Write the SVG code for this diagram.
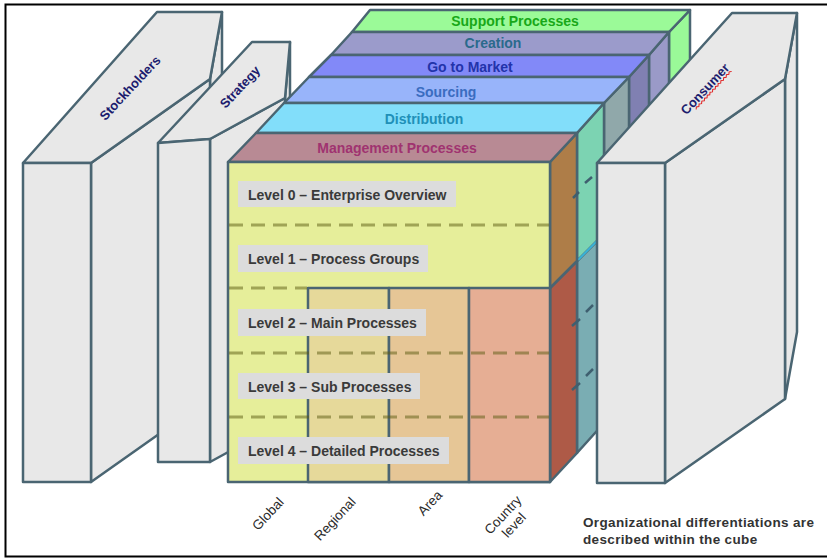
<svg xmlns="http://www.w3.org/2000/svg" width="827" height="559" viewBox="0 0 827 559">
<style>
.e{stroke:#4A6572;stroke-width:2.5;stroke-linejoin:round}
.blk{fill:#E8E8E8}
.lay{font-family:"Liberation Sans",Arial,sans-serif;font-weight:bold;font-size:14px;text-anchor:middle}
.bt{font-family:"Liberation Sans",Arial,sans-serif;font-weight:bold;font-size:13px;fill:#1C1C6E;text-anchor:middle}
.lv{font-family:"Liberation Sans",Arial,sans-serif;font-weight:bold;font-size:14px;fill:#3A3A3A}
.ax{font-family:"Liberation Sans",Arial,sans-serif;font-size:13.5px;fill:#2A2A2A;text-anchor:middle}
.note{font-family:"Liberation Sans",Arial,sans-serif;font-weight:bold;font-size:13.5px;fill:#333;letter-spacing:0.35px}
.lbox{fill:#DCDCDC}
.dash{stroke:#5A5A10;stroke-opacity:0.5;stroke-width:3;stroke-dasharray:14 8;fill:none}
.sd{stroke:#3F5F6F;stroke-width:2.5;fill:none}
</style>
<rect x="0" y="0" width="827" height="559" fill="#FFFFFF"/>
<rect x="5.5" y="4.5" width="840" height="552" fill="none" stroke="#000" stroke-width="2"/>

<g id="stockholders">
  <polygon class="e blk" points="210,79 222,12 222,332 210,398"/>
  <polygon class="e blk" points="91,163 210,79 210,398 91,482"/>
  <polygon class="e blk" points="23,163 157,12 222,12 210,79 91,163"/>
  <polygon class="e blk" points="23,163 91,163 91,482 23,482"/>
  <text class="bt" transform="translate(130,88) rotate(-47)" x="0" y="4.5">Stockholders</text>
</g>

<g id="strategy">
  <polygon class="e blk" points="285,98 290,42 290,380 285,421"/>
  <polygon class="e blk" points="210,139 285,98 285,421 210,462"/>
  <polygon class="e blk" points="158,143 252,42 290,42 285,98 210,139"/>
  <polygon class="e blk" points="158,143 210,139 210,462 158,462"/>
  <text class="bt" transform="translate(240,87) rotate(-47)" x="0" y="4.5">Strategy</text>
</g>

<g id="cube">
  <g id="support">
    <polygon class="e" fill="#9AF998" points="669,32 690,10 690,330 669,352"/>
    <polygon class="e" fill="#9BFA98" points="352,32 370,10 690,10 669,32"/>
    <text class="lay" fill="#18A818" x="515" y="26">Support Processes</text>
  </g>
  <g id="creation">
    <polygon class="e" fill="#9A9AC8" points="649,55 669,32 669,352 649,375"/>
    <polygon class="e" fill="#9B9BCB" points="331,55 352,32 669,32 649,55"/>
    <text class="lay" fill="#2A6A8C" x="493" y="48">Creation</text>
  </g>
  <g id="gotomarket">
    <polygon class="e" fill="#8080B2" points="629,77 649,55 649,375 629,397"/>
    <polygon class="e" fill="#8289F8" points="309,77 331,55 649,55 629,77"/>
    <text class="lay" fill="#2233AA" x="470" y="72">Go to Market</text>
  </g>
  <g id="sourcing">
    <polygon class="e" fill="#90A8AA" points="604,103 629,77 629,397 604,423"/>
    <polygon class="e" fill="#98B4FA" points="284,103 309,77 629,77 604,103"/>
    <text class="lay" fill="#3A6CC0" x="446" y="97">Sourcing</text>
  </g>
  <g id="distribution">
    <polygon class="e" fill="#7AADB3" points="577,261 604,234 604,423 577,453"/>
    <polygon class="e" fill="#7CD3B2" points="577,133 604,103 604,234 577,261"/>
    <line x1="578" y1="260" x2="603" y2="235" stroke="#3AB4D8" stroke-width="2"/>
    <polygon class="e" fill="#82DEFA" points="256,133 284,103 604,103 577,133"/>
    <text class="lay" fill="#2090B8" x="424" y="124">Distribution</text>
  </g>
  <g id="management">
    <polygon class="e" fill="#AE5A47" points="550,288 577,261 577,453 550,482"/>
    <polygon class="e" fill="#AE7D48" points="550,162 577,133 577,261 550,288"/>
    <polygon class="e" fill="#B88A94" points="228,162 256,133 577,133 550,162"/>
    <text class="lay" fill="#A03370" x="397" y="153">Management Processes</text>
  </g>
  <g id="front">
    <rect class="e" fill="#E6EE9A" x="228" y="162" width="322" height="320"/>
    <rect class="e" fill="#E6D99A" x="308" y="288" width="81" height="194"/>
    <rect class="e" fill="#E6C696" x="389" y="288" width="80" height="194"/>
    <rect class="e" fill="#E6AE94" x="469" y="288" width="81" height="194"/>
    <line class="dash" x1="229" y1="225" x2="549" y2="225"/>
    <line class="dash" x1="229" y1="288" x2="307" y2="288"/>
    <line class="dash" x1="229" y1="353" x2="549" y2="353"/>
    <line class="dash" x1="229" y1="417" x2="549" y2="417"/>
    <g class="sd">
      <line x1="573" y1="198" x2="579" y2="192"/>
      <line x1="585" y1="183" x2="592" y2="177"/>
      <line x1="572" y1="326" x2="580" y2="319"/>
      <line x1="586" y1="312" x2="593" y2="305"/>
      <line x1="572" y1="390" x2="580" y2="383"/>
      <line x1="586" y1="376" x2="593" y2="369"/>
    </g>
  </g>
  <g id="level0"><rect class="lbox" x="238" y="181" width="218" height="26"/><text class="lv" x="248" y="200">Level 0 – Enterprise Overview</text></g>
  <g id="level1"><rect class="lbox" x="238" y="245" width="190" height="27"/><text class="lv" x="248" y="264">Level 1 – Process Groups</text></g>
  <g id="level2"><rect class="lbox" x="238" y="309" width="188" height="27"/><text class="lv" x="248" y="328">Level 2 – Main Processes</text></g>
  <g id="level3"><rect class="lbox" x="238" y="373" width="182" height="26"/><text class="lv" x="248" y="392">Level 3 – Sub Processes</text></g>
  <g id="level4"><rect class="lbox" x="238" y="437" width="211" height="27"/><text class="lv" x="248" y="456">Level 4 – Detailed Processes</text></g>
</g>

<g id="consumer">
  <polygon class="e blk" points="785,79 797,13 797,332 785,399"/>
  <polygon class="e blk" points="665,163 785,79 785,399 665,483"/>
  <polygon class="e blk" points="597,163 732,13 797,13 785,79 665,163"/>
  <polygon class="e blk" points="597,163 665,163 665,483 597,483"/>
  <g transform="translate(705,89) rotate(-47)">
    <text class="bt" x="0" y="4.5">Consumer</text>
    <path d="M-21 7.5 l2 -1.6 l2 1.6 l2 -1.6 l2 1.6 l2 -1.6 l2 1.6 l2 -1.6 l2 1.6 l2 -1.6 l2 1.6 l2 -1.6 l2 1.6 l2 -1.6 l2 1.6 l2 -1.6 l2 1.6 l2 -1.6 l2 1.6 l2 -1.6 l2 1.6 l2 -1.6 l2 1.6 l2 -1.6 l2 1.6 l2 -1.6 l2 1.6" fill="none" stroke="#E02020" stroke-width="1"/>
  </g>
</g>

<g id="axis-labels">
  <text class="ax" transform="translate(268,514) rotate(-47)" x="0" y="4.5">Global</text>
  <text class="ax" transform="translate(335,519) rotate(-47)" x="0" y="4.5">Regional</text>
  <text class="ax" transform="translate(430,503) rotate(-47)" x="0" y="4.5">Area</text>
  <text class="ax" transform="translate(503,515) rotate(-47)"><tspan x="0" y="4.5">Country</tspan><tspan x="0" dy="15">level</tspan></text>
</g>

<g id="note">
  <text class="note" x="583" y="527">Organizational differentiations are</text>
  <text class="note" x="583" y="544">described within the cube</text>
</g>
</svg>
